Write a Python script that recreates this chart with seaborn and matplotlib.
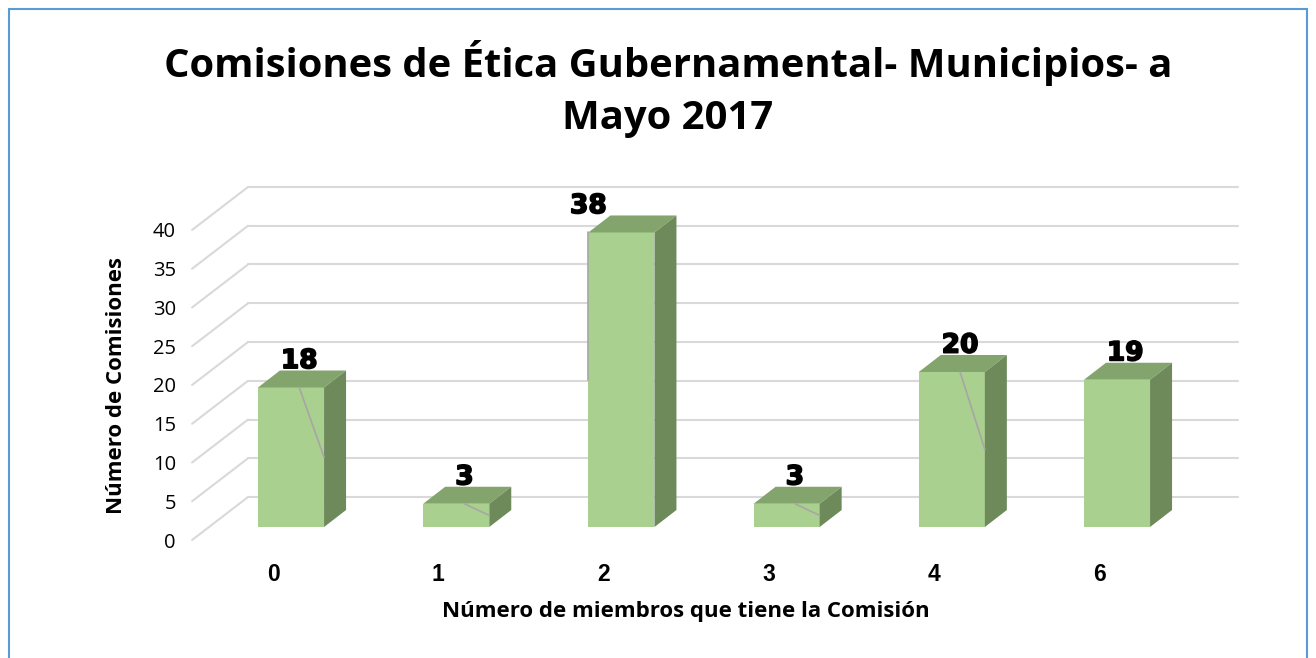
import matplotlib
matplotlib.use('Agg')
import matplotlib.pyplot as plt
import matplotlib.patheffects as pe
from matplotlib.patches import Polygon, Rectangle
from matplotlib.transforms import ScaledTranslation
import seaborn as sns
import pandas as pd

# data
miembros = ['0', '1', '2', '3', '4', '6']
comisiones = [18, 3, 38, 3, 20, 19]
y_ticks = [0, 5, 10, 15, 20, 25, 30, 35, 40]

title_1 = 'Comisiones de Ética Gubernamental- Municipios- a'
title_2 = 'Mayo 2017'
x_label = 'Número de miembros que tiene la Comisión'
y_label = 'Número de Comisiones'

front_col = '#A9D08E'
top_col = '#84A46E'
side_col = '#6E8A5A'
grid_col = '#D9D9D9'

sns.set_theme(style='white')
plt.rcParams['font.family'] = ['Open Sans', 'DejaVu Sans']
plt.rcParams['text.color'] = 'black'

W, H = 1316, 658
fig = plt.figure(figsize=(W / 100, H / 100), dpi=100)
ax = fig.add_axes([180 / W, 1 - 545 / H, (1250 - 180) / W, (545 - 180) / H])

# pixel scale of the axes
px_x = 165.2   # px per category
px_y = 7.75    # px per unit

df = pd.DataFrame({'miembros': miembros, 'comisiones': comisiones})
sns.barplot(data=df, x='miembros', y='comisiones', color=front_col, width=0.4,
            saturation=1, edgecolor='none', ax=ax, zorder=3)

ax.set_xlim(-0.672, 5.805)
ax.set_ylim(-2.32, 44.77)

# back wall gridlines and floor diagonals
back_dy = 30 / px_y
front_dy = -13 / px_y
for v in y_ticks:
    ax.plot([-0.260, 5.732], [v + back_dy, v + back_dy], color=grid_col, lw=1.5, zorder=1)
    ax.plot([-0.599, -0.260], [v + front_dy, v + back_dy], color=grid_col, lw=1.5, zorder=1)

# 3d faces on each bar
ddx = 22 / px_x
ddy = 17 / px_y
leader_side = ['right', 'right', 'left', 'right', 'right', None]
for bar, val, side in zip(ax.patches, comisiones, leader_side):
    x0 = bar.get_x()
    x1 = x0 + bar.get_width()
    top = bar.get_height()
    ax.add_patch(Polygon([(x0, top), (x1, top), (x1 + ddx, top + ddy), (x0 + ddx, top + ddy)],
                         closed=True, color=top_col, zorder=3, lw=0))
    ax.add_patch(Polygon([(x1, 0), (x1 + ddx, ddy), (x1 + ddx, top + ddy), (x1, top)],
                         closed=True, color=side_col, zorder=3, lw=0))
    cx = x0 + bar.get_width() / 2
    lx = cx + 0.05 if side != 'left' else x0 + 0.0
    if side is not None:
        ex = x1 if side == 'right' else x0
        ax.plot([lx, ex], [top, top / 2], color='#A6A6A6', lw=1.2, zorder=4)
    ax.text(lx, top + 3.4, str(val), ha='center', va='center', fontsize=19,
            family='DejaVu Sans', fontweight='heavy', color='black', zorder=5,
            path_effects=[pe.withStroke(linewidth=1.2, foreground='black')])

# ticks
ax.set_yticks([v + front_dy for v in y_ticks])
ax.set_yticklabels([str(v) for v in y_ticks], fontsize=14.5, color='black')
ax.tick_params(axis='y', length=0, pad=3)
ax.set_xticks(range(len(miembros)))
ax.set_xticklabels(miembros, fontsize=16.5, fontweight='bold', color='black',
                   family='Liberation Sans')
ax.tick_params(axis='x', length=0, pad=13)
for lab in ax.get_xticklabels():
    lab.set_transform(lab.get_transform() + ScaledTranslation(-0.18, 0, fig.dpi_scale_trans))

ax.set_xlabel('')
ax.set_ylabel('')
for s in ax.spines.values():
    s.set_visible(False)
ax.patch.set_alpha(0)

fig.text(686 / W, 1 - 612 / H, x_label, ha='center', va='center', fontsize=16, fontweight='bold')
fig.text(117 / W, 1 - 385 / H, y_label, ha='center', va='center', rotation=90,
         fontsize=16, fontweight='bold')
fig.text(668 / W, 1 - 63 / H, title_1, ha='center', va='center', fontsize=28.8, fontweight='bold')
fig.text(668 / W, 1 - 118 / H, title_2, ha='center', va='center', fontsize=28.8, fontweight='bold')

# chart area border
fig.add_artist(Rectangle((9 / W, -0.1), (1307 - 9) / W, 1.1 - 9 / H,
                         transform=fig.transFigure, fill=False, edgecolor='#5B9BD5', lw=1.5))

fig.savefig('out.png', dpi=100)
